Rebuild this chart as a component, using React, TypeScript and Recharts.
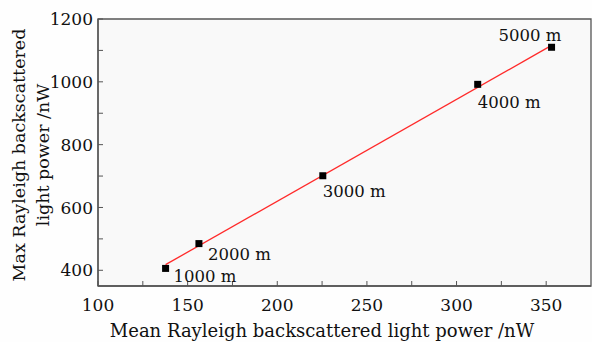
import {
	ScatterChart,
	Scatter,
	XAxis,
	YAxis,
	ReferenceArea,
	LabelList,
	Customized,
} from "recharts";

const distances = ["1000 m", "2000 m", "3000 m", "4000 m", "5000 m"];
const meanPower = [137.7, 156.3, 225.4, 311.8, 353.0];
const maxPower = [406, 485, 701, 992, 1110];

// ends of the red fit line
const fitX = [137.7, 353.0];
const fitY = [418, 1116];

const xTicks = [100, 125, 150, 175, 200, 225, 250, 275, 300, 325, 350];
const xLabelled = [100, 150, 200, 250, 300, 350];
const yTicks = [400, 500, 600, 700, 800, 900, 1000, 1100, 1200];
const yLabelled = [400, 600, 800, 1000, 1200];

const points = meanPower.map((x, i) => ({ x, y: maxPower[i], name: distances[i] }));
const fit = fitX.map((x, i) => ({ x, y: fitY[i] }));

// where each distance label sits relative to its point
const labelOffsets = [
	{ dx: 8, dy: 8 },
	{ dx: 9, dy: 11 },
	{ dx: 0, dy: 16 },
	{ dx: 0, dy: 18 },
	{ dx: -53, dy: -12 },
];

const FONT = "'DejaVu Serif', serif";
const INK = "#111";
const AXIS = "#555";

const Square = (props: any) => {
	const { cx, cy } = props;
	return <rect x={cx - 3.5} y={cy - 3.5} width={7} height={7} fill="#000" />;
};

const NoShape = () => null;

const DistanceLabel = (props: any) => {
	const { x, y, width, height, index, value } = props;
	const o = labelOffsets[index] ?? { dx: 0, dy: 0 };
	const cx = x + (width ?? 0) / 2;
	const cy = y + (height ?? 0) / 2;
	return (
		<text
			x={cx + o.dx}
			y={cy + o.dy}
			dominantBaseline="central"
			fontFamily={FONT}
			fontSize={16.5}
			fill={INK}
		>
			{value}
		</text>
	);
};

const Texts = () => (
	<g fontFamily={FONT} fill={INK}>
		<text transform="translate(19,155) rotate(-90)" textAnchor="middle" fontSize={17.5}>
			<tspan x={0} y={0} dominantBaseline="central">Max Rayleigh backscattered</tspan>
			<tspan x={0} y={24} dominantBaseline="central">light power /nW</tspan>
		</text>
		<text x={322} y={330} textAnchor="middle" dominantBaseline="central" fontSize={18}>
			Mean Rayleigh backscattered light power /nW
		</text>
		<text x={198} y={132} dominantBaseline="central" fontSize={17}>
			<tspan fontStyle="italic">y</tspan>=3.2444<tspan fontStyle="italic">x</tspan>−28.772
		</text>
		<text x={198} y={155} dominantBaseline="central" fontSize={17}>
			<tspan fontStyle="italic">R</tspan>
			<tspan fontSize={10} dy={-6}>2</tspan>
			<tspan dy={6}>=0.9996</tspan>
		</text>
	</g>
);

const tickStyle = { fontFamily: FONT, fontSize: 17, fill: INK, style: { fontSize: 17 } };

const App = () => {
	return (
		<div style={{ position: "absolute", left: 0, top: 0, background: "#fefefe" }}>
			<ScatterChart
				width={592}
				height={342}
				margin={{ top: 19, right: 1, bottom: 0, left: 0 }}
			>
				<ReferenceArea
					x1={100}
					x2={375}
					y1={350}
					y2={1200}
					fill="#f9f9f9"
					fillOpacity={1}
					stroke={AXIS}
					strokeWidth={1.3}
				/>
				<XAxis
					type="number"
					dataKey="x"
					domain={[100, 375]}
					ticks={xTicks}
					interval={0}
					height={56}
					tickSize={-5}
					tickMargin={18}
					tickFormatter={(v: number) => (xLabelled.includes(v) ? String(v) : "")}
					tick={tickStyle}
					stroke={AXIS}
					axisLine={{ stroke: AXIS, strokeWidth: 1.3 }}
				/>
				<YAxis
					type="number"
					dataKey="y"
					domain={[350, 1200]}
					ticks={yTicks}
					interval={0}
					width={98}
					tickSize={-5}
					tickMargin={10}
					tickFormatter={(v: number) => (yLabelled.includes(v) ? String(v) : "")}
					tick={tickStyle}
					stroke={AXIS}
					axisLine={{ stroke: AXIS, strokeWidth: 1.3 }}
				/>
				<Scatter
					data={fit}
					line={{ stroke: "#ff2a2a", strokeWidth: 1.3 }}
					shape={NoShape}
					isAnimationActive={false}
				/>
				<Scatter data={points} shape={Square} isAnimationActive={false}>
					<LabelList dataKey="name" content={DistanceLabel} />
				</Scatter>
				<Customized component={Texts} />
			</ScatterChart>
		</div>
	);
};

export default App;
